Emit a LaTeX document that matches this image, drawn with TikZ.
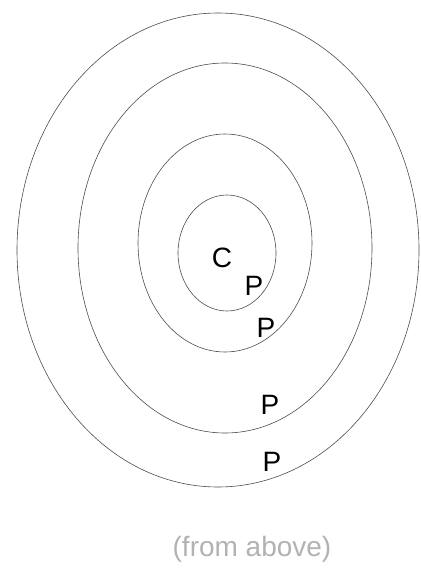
\documentclass[tikz,border=0pt]{standalone}
\usepackage{fontspec}
\setmainfont{Liberation Sans}
\begin{document}
\begin{tikzpicture}[x=1pt,y=-1pt,
  ring/.style={draw=black!70,line width=0.6pt},
  lbl/.style={font=\fontsize{28}{32}\selectfont,inner sep=0pt,text=black},
  caption/.style={font=\fontsize{28}{32}\selectfont,inner sep=0pt,text=black!30}]
\useasboundingbox (0,0) rectangle (420,575);
\draw[ring] (218,250) ellipse [x radius=201pt, y radius=237pt];
\draw[ring] (225,248) ellipse [x radius=147pt, y radius=185pt];
\draw[ring] (225,243) ellipse [x radius=87pt, y radius=109pt];
\draw[ring] (227,253) ellipse [x radius=49pt, y radius=58pt];
\node[lbl] (c) at (222,258) {C};
\node[lbl] (p1) at (254,286) {P};
\node[lbl] (p2) at (266,328) {P};
\node[lbl] (p3) at (270,405) {P};
\node[lbl] (p4) at (272,462) {P};
\node[caption] (cap) at (252,549) {(from above)};
\end{tikzpicture}
\end{document}
